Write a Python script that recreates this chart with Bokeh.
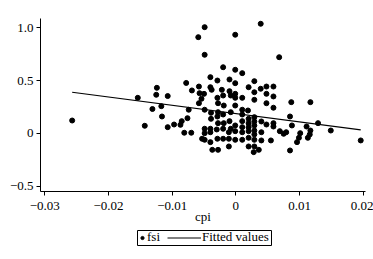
from bokeh.plotting import figure
from bokeh.layouts import column
from bokeh.models import Legend, LegendItem, FixedTicker, Range1d, BoxAnnotation
from bokeh.embed import file_html
from bokeh.resources import INLINE

# ---- data ----
cpi = [
    -0.0257, -0.0154, -0.0143, -0.0131, -0.0124, -0.0125, -0.0117, -0.0116, -0.0107, -0.0107,
    -0.0097, -0.0087, -0.0085, -0.0076, -0.0074, -0.0081, -0.0070, -0.0078, -0.0069,
    -0.0049, -0.0059, -0.0001, 0.0039, -0.0049, 0.0068,
    -0.0058, -0.0057, -0.0050, -0.0040, -0.0038, -0.0040, -0.0029, -0.0020, -0.0010, -0.0054,
    -0.0058, -0.0049, -0.0039, -0.0029, -0.0028, -0.0022, -0.0020, -0.0010, -0.0008, -0.0019,
    -0.0008, -0.0028, -0.0029, -0.0020, -0.0039, -0.0040, -0.0049, -0.0049, -0.0049, -0.0040,
    -0.0030, -0.0028, -0.0020, -0.0019, -0.0010, -0.0008, -0.0011, -0.0040, -0.0029, -0.0020,
    -0.0011, -0.0011, -0.0037, -0.0028, -0.0053,
    -0.0001, 0.0010, -0.0001, 0.0020, 0.0029, 0.0029, 0.0039, 0.0048, 0.0059, 0.0048,
    0.0059, 0.0029, -0.0001, 0.0010, -0.0001, -0.0001, 0.0010, 0.0019, 0.0048, 0.0059,
    0.0087, 0.0117, 0.0085, 0.0129, 0.0149, 0.0196, 0.0010, 0.0010, 0.0020, 0.0020,
    0.0029, 0.0029, 0.0029, 0.0040, 0.0048, 0.0059, 0.0059, 0.0069, 0.0075, 0.0079,
    0.0088, 0.0099, 0.0101, 0.0111, 0.0117, 0.0116, 0.0113, -0.0001, -0.0001, 0.0010,
    0.0010, 0.0020, 0.0020, 0.0029, 0.0029, 0.0040, -0.0001, 0.0010, 0.0020, 0.0029,
    0.0040, 0.0055, 0.0020, 0.0029, 0.0036, 0.0028, 0.0085, 0.0096,
]
fsi = [
    0.123, 0.338, 0.073, 0.232, 0.433, 0.367, 0.259, 0.161, 0.355, 0.060,
    0.085, 0.082, 0.117, 0.145, 0.225, 0.007, 0.007, 0.479, 0.408,
    1.008, 0.913, 0.936, 1.040, 0.746, 0.723,
    0.445, 0.382, 0.376, 0.439, 0.414, 0.534, 0.502, 0.628, 0.512, 0.329,
    0.287, 0.225, 0.196, 0.338, 0.287, 0.414, 0.360, 0.401, 0.360, 0.265,
    0.202, 0.202, 0.161, 0.180, 0.139, 0.045, 0.045, 0.003, -0.060, 0.012,
    0.038, 0.098, 0.045, 0.098, 0.117, 0.045, 0.012, -0.082, -0.050, -0.050,
    -0.050, -0.123, -0.155, -0.155, -0.050,
    0.604, 0.572, 0.477, 0.439, 0.496, 0.391, 0.424, 0.445, 0.445, 0.376,
    0.351, 0.319, 0.376, 0.338, 0.338, 0.265, 0.225, 0.218, 0.287, 0.244,
    0.297, 0.297, 0.161, 0.098, 0.028, -0.066, 0.180, 0.117, 0.139, 0.098,
    0.155, 0.114, 0.076, 0.114, 0.085, 0.066, 0.098, 0.022, -0.003, 0.012,
    0.076, -0.041, 0.003, 0.066, 0.028, -0.009, -0.041, 0.076, 0.022, 0.060,
    0.012, 0.060, 0.022, 0.028, -0.009, 0.012, -0.060, -0.060, -0.041, -0.060,
    -0.066, -0.066, -0.123, -0.123, -0.155, -0.177, -0.161, -0.082,
]
fit_cpi = [-0.0257, 0.0196]
fit_fsi = [0.391, 0.035]

x_ticks = [-0.03, -0.02, -0.01, 0.0, 0.01, 0.02]
x_tick_labels = ["\u22120.03", "\u22120.02", "\u22120.01", "0", "0.01", "0.02"]
y_ticks = [-0.5, 0.0, 0.5, 1.0]
y_tick_labels = ["\u22120.5", "0", "0.5", "1.0"]
x_label = "cpi"
legend_labels = ["fsi", "Fitted values"]

FONT = "Liberation Serif"
FS = "13px"
W, H = 373, 259
LEG_H = 30
F_LEFT, F_RIGHT = 40, 365   # frame edges (shared by both stacked figures)

# ---- main scatter plot ----
p = figure(width=W, height=H - LEG_H, output_backend="svg", toolbar_location=None,
           x_range=Range1d(-0.03067, 0.02035), y_range=Range1d(-0.550, 1.090),
           min_border_left=F_LEFT, min_border_right=W - F_RIGHT, min_border_top=18,
           min_border_bottom=H - LEG_H - 191)
p.outline_line_color = None
p.grid.visible = False
p.background_fill_color = "white"
p.border_fill_color = "white"

for ax, ticks, labels in ((p.xaxis[0], x_ticks, x_tick_labels),
                          (p.yaxis[0], y_ticks, y_tick_labels)):
    ax.ticker = FixedTicker(ticks=ticks)
    ax.major_label_overrides = {t: l for t, l in zip(ticks, labels)}
    ax.minor_tick_line_color = None
    ax.major_tick_in = 0
    ax.major_tick_out = 4
    ax.axis_line_color = "black"
    ax.major_tick_line_color = "black"
    ax.major_label_text_font = FONT
    ax.major_label_text_font_size = FS
    ax.major_label_text_color = "black"

p.xaxis.major_label_standoff = 6
p.yaxis.major_label_standoff = 3
p.xaxis.axis_label = x_label
p.xaxis.axis_label_text_font = FONT
p.xaxis.axis_label_text_font_style = "normal"
p.xaxis.axis_label_text_font_size = FS
p.xaxis.axis_label_text_color = "black"
p.xaxis.axis_label_standoff = -4

p.scatter(cpi, fsi, size=5, color="black")
p.line(fit_cpi, fit_fsi, line_color="black", line_width=1.2)

# ---- legend strip below the plot (x in page pixels, frame aligned with p) ----
leg = figure(width=W, height=LEG_H, output_backend="svg", toolbar_location=None,
             x_range=Range1d(F_LEFT, F_RIGHT), y_range=Range1d(0, LEG_H),
             x_axis_location=None, y_axis_location=None,
             min_border_left=F_LEFT, min_border_right=W - F_RIGHT, min_border_top=0,
             min_border_bottom=0)
leg.grid.visible = False
leg.outline_line_color = None
leg.background_fill_color = "white"
leg.border_fill_color = "white"
lr_pts = leg.scatter(cpi, fsi, size=5, color="black", visible=False)
lr_fit = leg.line(fit_cpi, fit_fsi, line_color="black", line_width=1.2, visible=False)

leg.add_layout(BoxAnnotation(left=137, right=271, bottom=14, top=29,
                             fill_alpha=0, line_color="black", line_width=1,
                             line_alpha=1))

common = dict(orientation="horizontal", border_line_color=None,
              background_fill_alpha=0, label_text_font=FONT,
              label_text_font_size=FS, label_text_color="black",
              glyph_height=13, label_height=13, label_standoff=1,
              padding=1, margin=0, spacing=0)
leg.add_layout(Legend(items=[LegendItem(label=legend_labels[0], renderers=[lr_pts])],
                      location=(138 - F_LEFT, 14), glyph_width=8, **common))
leg.add_layout(Legend(items=[LegendItem(label=legend_labels[1], renderers=[lr_fit])],
                      location=(167 - F_LEFT, 14), glyph_width=34, **common))

layout = column(p, leg, spacing=0)
open("out.html", "w").write(file_html(layout, INLINE))
